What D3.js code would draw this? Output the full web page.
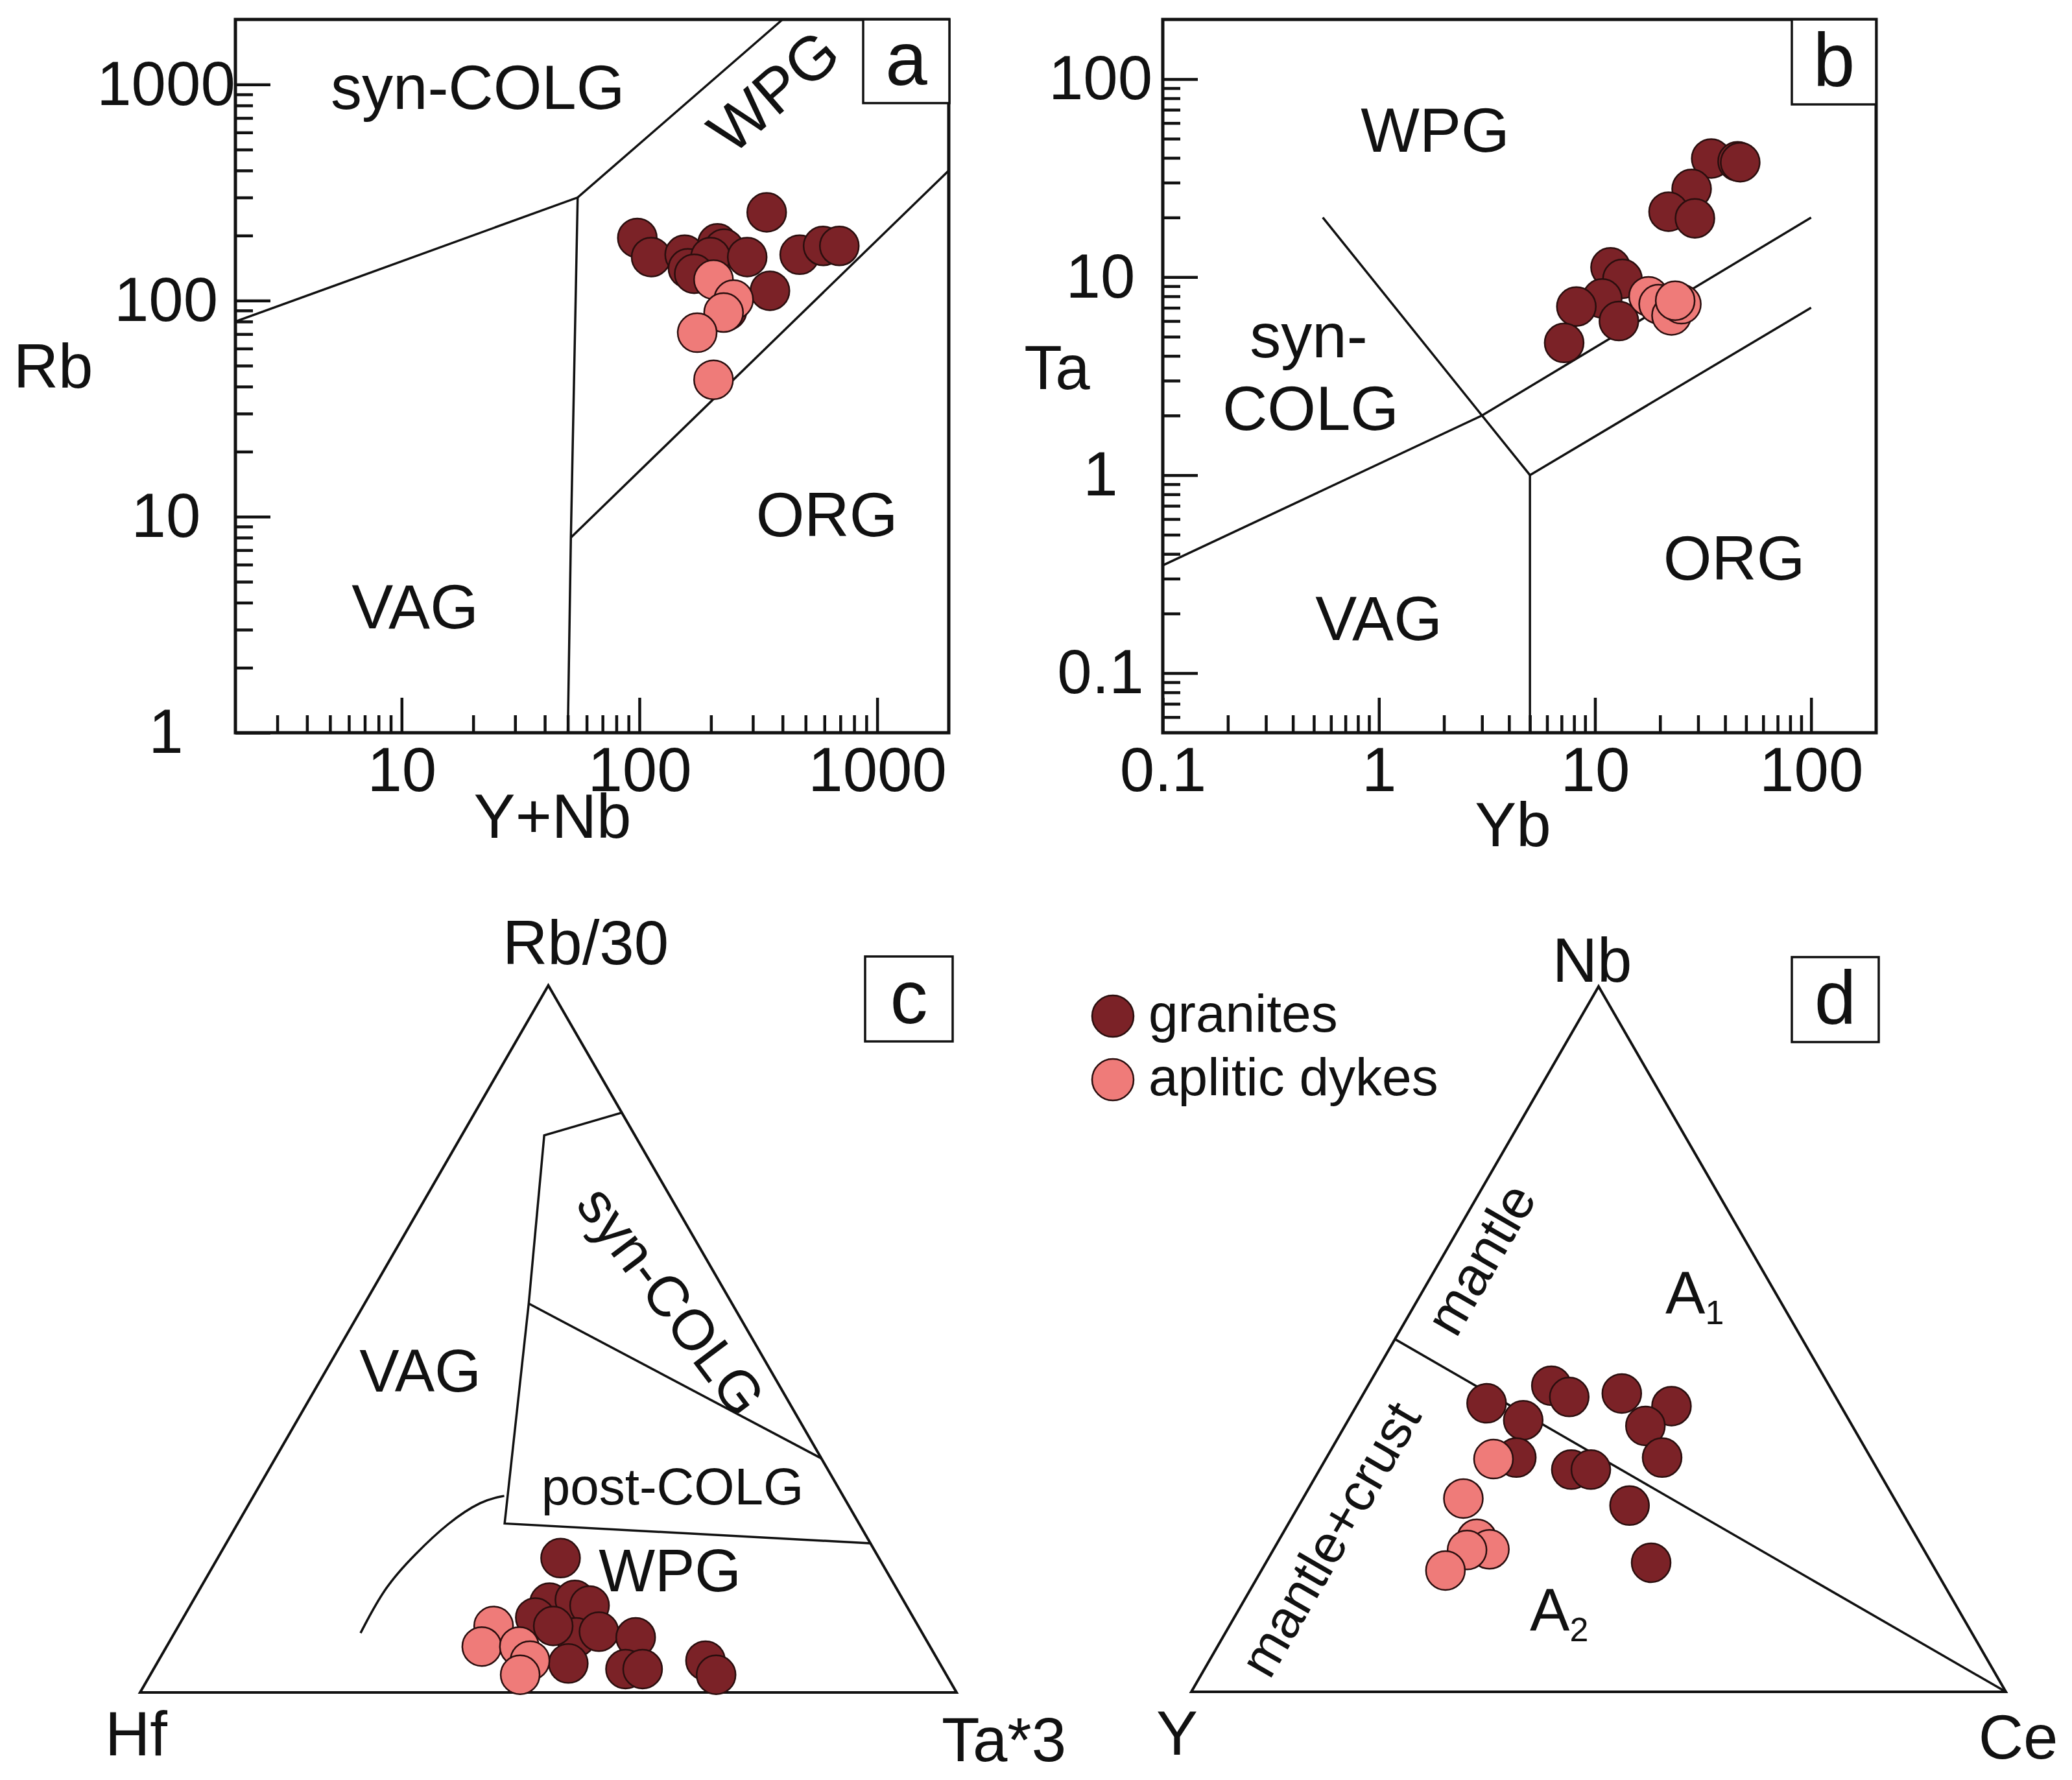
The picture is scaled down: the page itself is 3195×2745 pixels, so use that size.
<!DOCTYPE html>
<html>
<head>
<meta charset="utf-8">
<script src="https://cdn.jsdelivr.net/npm/d3@7"></script>
<style>
  body { margin: 0; background: #fff; }
</style>
</head>
<body>
<div id="chart"></div>
<script>
const W = 3195;
const H = 2745;
const FONT = '"Liberation Sans", Arial, Helvetica, sans-serif';
const COLORS = {
  GRANITE: '#7b2227',
  APLITE: '#ef7b79',
  EDGE: '#2a0e0e',
  INK: '#111111'
};
const R = 30;

// (a) Rb vs Y+Nb
const aGraniteYNb = [98, 112, 155, 160, 213, 227, 199, 284, 343, 354, 472, 592, 693, 234, 170];
const aGraniteRb  = [195, 159, 163, 141, 184, 174, 159, 159, 256, 111, 163, 179, 179, 90, 133];
const aApliteYNb  = [205, 249, 226, 175, 205];
const aApliteRb   = [125, 101, 88, 71, 43];
const aBoundaries = [
  [[2, 80], [55, 300], [400, 2000]],
  [[55, 300], [51.5, 8], [50, 1]],
  [[51.5, 8], [2000, 400]]
];
const aXTicks = [10, 100, 1000];
const aYTicks = [1, 10, 100, 1000];

// (b) Ta vs Yb
const bGraniteYb = [34.5, 45.7, 47, 28, 21.9, 29, 11.8, 13.4, 10.8, 8.2, 12.9, 7.2];
const bGraniteTa = [39.7, 38.4, 38, 27.9, 21.4, 19.8, 11.2, 9.8, 7.8, 7.1, 6.0, 4.65];
const bApliteYb  = [17.7, 19.7, 22.6, 25.1, 23.5];
const bApliteTa  = [8.0, 7.3, 6.4, 7.3, 7.6];
const bBoundaries = [
  [[0.55, 20], [5, 1], [100, 7]],
  [[5, 1], [5, 0.05]],
  [[0.1, 0.35], [3, 2], [100, 20]]
];
const bXTicks = [0.1, 1, 10, 100];
const bYTicks = [0.1, 1, 10, 100];

// (c) Hf - Rb/30 - Ta*3, compositions as [Hf, Rb/30, Ta*3]
const cGranites = [
  [39, 19, 42], [43.5, 12.7, 43.8], [40.2, 13.1, 46.7], [38.8, 12.3, 48.9],
  [46.3, 10.6, 43.1], [42.7, 7.8, 49.5], [39.5, 8.6, 51.9], [35.4, 7.8, 56.8],
  [45.5, 4.1, 50.4], [38.9, 3.3, 57.8], [36.8, 3.3, 59.9], [28.5, 4.5, 67.0],
  [28.2, 2.5, 69.3], [44.7, 9.4, 45.9]
];
const cAplites = [
  [52, 9.4, 38.6], [54.9, 6.5, 38.6], [50.3, 6.5, 43.2], [50, 4.5, 45.5], [52.2, 2.5, 45.3]
];
const cFields = [
  [[0, 82, 18], [11.1, 78.8, 10.1], [24.9, 55.0, 20.1], [43.4, 23.9, 32.7], [0, 21.1, 78.9]],
  [[24.9, 55.0, 20.1], [0, 33.1, 66.9]]
];
const cWpgCurve = [
  [41.5, 27.8, 30.7], [44.5, 27.2, 28.3], [50.3, 24.0, 25.7],
  [56.5, 19.6, 23.9], [62.5, 15.0, 22.5], [68.8, 8.4, 22.8]
];

// (d) Y - Nb - Ce, compositions as [Y, Nb, Ce]
const dGranites = [
  [43.3, 40.9, 15.8], [40.0, 38.5, 21.5], [34.1, 43.4, 22.5], [32.7, 41.8, 25.5],
  [26.0, 42.3, 31.7], [20.8, 40.5, 38.7], [25.4, 37.7, 36.9], [25.6, 33.2, 41.2],
  [43.5, 33.2, 23.3], [37.6, 31.5, 30.9], [35.2, 31.5, 33.3], [33.0, 26.4, 40.6],
  [34.4, 18.3, 47.3]
];
const dAplites = [
  [46.4, 33.0, 20.6], [52.9, 27.4, 19.7], [54.1, 21.7, 24.2],
  [53.3, 20.2, 26.5], [56.1, 20.1, 23.8], [60.2, 17.2, 22.6]
];
const dDivide = [[50, 50, 0], [0, 0, 100]];

const svg = d3.select('#chart').append('svg')
  .attr('width', W)
  .attr('height', H)
  .attr('viewBox', [0, 0, W, H])
  .style('font-family', FONT)
  .style('background', '#fff');

const addText = (g, str, x, y, size, rotate = 0, anchor = 'middle') => {
  const t = g.append('text')
    .attr('transform', `translate(${x},${y}) rotate(${rotate})`)
    .attr('text-anchor', anchor)
    .attr('font-size', size)
    .attr('fill', COLORS.INK)
    .text(str);
  if (rotate !== 0) t.attr('dy', '0.36em');  // rotated labels are placed by their centre
  return t;
};

const addLetterBox = (g, letter, x, y, w, h) => {
  g.append('rect')
    .attr('x', x).attr('y', y).attr('width', w).attr('height', h)
    .attr('fill', '#fff').attr('stroke', COLORS.INK).attr('stroke-width', 3.5);
  addText(g, letter, x + w / 2, y + h - 28, 116);
};

const drawDots = (g, pts, fill) => {
  g.append('g')
    .selectAll('circle')
    .data(pts)
    .join('circle')
      .attr('cx', d => d[0])
      .attr('cy', d => d[1])
      .attr('r', R)
      .attr('fill', fill)
      .attr('stroke', COLORS.EDGE)
      .attr('stroke-width', 2.5);
};

const isDecade = v => Math.abs(Math.log10(v) - Math.round(Math.log10(v))) < 1e-6;

function drawLogPanel(cfg) {
  const { x0, y0, size } = cfg;
  const x = d3.scaleLog(cfg.xDomain, [x0, x0 + size]);
  const y = d3.scaleLog(cfg.yDomain, [y0 + size, y0]);
  const g = svg.append('g');

  const inside = (s, v) => {
    const [a, b] = s.domain();
    return v > a * 1.0001 && v < b / 1.0001;
  };
  const xMinor = x.ticks().filter(v => inside(x, v) && !isDecade(v));
  const yMinor = y.ticks().filter(v => inside(y, v) && !isDecade(v));

  const styleAxis = sel => {
    sel.select('.domain').remove();
    sel.selectAll('line').attr('stroke', COLORS.INK).attr('stroke-width', 4.5);
    sel.selectAll('text').attr('font-size', 96).attr('fill', COLORS.INK).attr('font-family', FONT);
  };

  g.append('g')
    .attr('transform', `translate(0,${y0 + size})`)
    .call(d3.axisBottom(x).tickValues(xMinor).tickSize(-27).tickFormat(''))
    .call(styleAxis);
  g.append('g')
    .attr('transform', `translate(0,${y0 + size})`)
    .call(d3.axisBottom(x).tickValues(cfg.xTicks).tickSize(-54).tickPadding(22).tickFormat(d => d))
    .call(styleAxis);
  g.append('g')
    .attr('transform', `translate(${x0},0)`)
    .call(d3.axisLeft(y).tickValues(yMinor).tickSize(-27).tickFormat(''))
    .call(styleAxis);
  g.append('g')
    .attr('transform', `translate(${x0},0)`)
    .call(d3.axisLeft(y).tickValues(cfg.yTicks).tickSize(-54).tickFormat(d => d))
    .call(styleAxis)
    .call(sel => sel.selectAll('text').attr('text-anchor', 'middle').attr('x', -cfg.yLabelOffset));

  const line = d3.line().x(d => x(d[0])).y(d => y(d[1]));
  g.append('g')
    .selectAll('path')
    .data(cfg.boundaries)
    .join('path')
      .attr('d', line)
      .attr('fill', 'none')
      .attr('stroke', COLORS.INK)
      .attr('stroke-width', 3.5);

  g.append('rect')
    .attr('x', x0).attr('y', y0).attr('width', size).attr('height', size)
    .attr('fill', 'none').attr('stroke', COLORS.INK).attr('stroke-width', 5);

  drawDots(g, d3.zip(cfg.granX, cfg.granY).map(d => [x(d[0]), y(d[1])]), COLORS.GRANITE);
  drawDots(g, d3.zip(cfg.aplX, cfg.aplY).map(d => [x(d[0]), y(d[1])]), COLORS.APLITE);

  return g;
}

function ternaryProjector(left, side) {
  const x = d3.scaleLinear([0, 1], [left[0], left[0] + side]);
  const y = d3.scaleLinear([0, 1], [left[1], left[1] - side * Math.sqrt(3) / 2]);
  return ([l, t, r]) => {
    const s = l + t + r;
    return [x((r + t / 2) / s), y(t / s)];
  };
}

function drawTernary(cfg) {
  const p = ternaryProjector(cfg.left, cfg.side);
  const g = svg.append('g');
  const corners = [[100, 0, 0], [0, 100, 0], [0, 0, 100]];

  g.append('path')
    .attr('d', d3.line().curve(d3.curveLinearClosed)(corners.map(p)))
    .attr('fill', 'none')
    .attr('stroke', COLORS.INK)
    .attr('stroke-width', 4)
    .attr('stroke-linejoin', 'miter');

  g.append('g')
    .selectAll('path')
    .data(cfg.fields)
    .join('path')
      .attr('d', d => d3.line()(d.map(p)))
      .attr('fill', 'none')
      .attr('stroke', COLORS.INK)
      .attr('stroke-width', 3.5);

  if (cfg.curve) {
    g.append('path')
      .attr('d', d3.line().curve(d3.curveBasis)(cfg.curve.map(p)))
      .attr('fill', 'none')
      .attr('stroke', COLORS.INK)
      .attr('stroke-width', 3.5);
  }

  drawDots(g, cfg.granites.map(p), COLORS.GRANITE);
  drawDots(g, cfg.aplites.map(p), COLORS.APLITE);
  return g;
}

// ---- panel a ----
const gA = drawLogPanel({
  x0: 363, y0: 30, size: 1100,
  xDomain: [2, 2000], yDomain: [1, 2000],
  xTicks: aXTicks, yTicks: aYTicks, yLabelOffset: 107,
  boundaries: aBoundaries,
  granX: aGraniteYNb, granY: aGraniteRb,
  aplX: aApliteYNb, aplY: aApliteRb
});
addText(gA, 'Rb', 82, 598, 96);
addText(gA, 'Y+Nb', 852, 1292, 96);
addText(gA, 'syn-COLG', 510, 168, 96, 0, 'start');
addText(gA, 'WPG', 1192, 140, 96, -41);
addText(gA, 'ORG', 1275, 827, 96);
addText(gA, 'VAG', 640, 969, 96);
addLetterBox(gA, 'a', 1331, 30, 133, 129);

// ---- panel b ----
const gB = drawLogPanel({
  x0: 1793, y0: 30, size: 1100,
  xDomain: [0.1, 200], yDomain: [0.05, 200],
  xTicks: bXTicks, yTicks: bYTicks, yLabelOffset: 96,
  boundaries: bBoundaries,
  granX: bGraniteYb, granY: bGraniteTa,
  aplX: bApliteYb, aplY: bApliteTa
});
addText(gB, 'Ta', 1630, 600, 96);
addText(gB, 'Yb', 2333, 1305, 96);
addText(gB, 'WPG', 2213, 234, 96);
addText(gB, 'syn-', 2018, 551, 96);
addText(gB, 'COLG', 2021, 663, 96);
addText(gB, 'VAG', 2126, 987, 96);
addText(gB, 'ORG', 2674, 894, 96);
addLetterBox(gB, 'b', 2763, 30, 130, 131);

// ---- panel c ----
const gC = drawTernary({
  left: [216, 2610], side: 1259,
  fields: cFields, curve: cWpgCurve,
  granites: cGranites, aplites: cAplites
});
addText(gC, 'Rb/30', 903, 1487, 96);
addText(gC, 'Hf', 210, 2707, 96);
addText(gC, 'Ta*3', 1548, 2716, 96);
addText(gC, 'VAG', 648, 2146, 92);
addText(gC, 'syn-COLG', 1036, 2005, 88, 53);
addText(gC, 'post-COLG', 1037, 2320, 80);
addText(gC, 'WPG', 1033, 2454, 92);
addLetterBox(gC, 'c', 1334, 1475, 135, 131);

// ---- panel d ----
const gD = drawTernary({
  left: [1837, 2609], side: 1256,
  fields: [dDivide],
  granites: dGranites, aplites: dAplites
});
addText(gD, 'Nb', 2455, 1514, 96);
addText(gD, 'Y', 1815, 2706, 96);
addText(gD, 'Ce', 3112, 2712, 96);
addText(gD, 'mantle', 2282, 1941, 84, -60);
addText(gD, 'mantle+crust', 2050, 2373, 82, -60);
const a1 = addText(gD, 'A', 2568, 2026, 92, 0, 'start');
a1.append('tspan').attr('font-size', 52).attr('dy', 16).text('1');
const a2 = addText(gD, 'A', 2359, 2515, 92, 0, 'start');
a2.append('tspan').attr('font-size', 52).attr('dy', 16).text('2');
addLetterBox(gD, 'd', 2763, 1476, 134, 131);

// legend
const legendItems = ['granites', 'aplitic dykes'];
const legendColors = [COLORS.GRANITE, COLORS.APLITE];
const legend = svg.append('g');
legendItems.forEach((label, i) => {
  const cy = 1567 + i * 98;
  legend.append('circle')
    .attr('cx', 1716).attr('cy', cy).attr('r', 32)
    .attr('fill', legendColors[i]).attr('stroke', COLORS.EDGE).attr('stroke-width', 2.5);
  addText(legend, label, 1771, cy + 24, 82, 0, 'start');
});
</script>
</body>
</html>
